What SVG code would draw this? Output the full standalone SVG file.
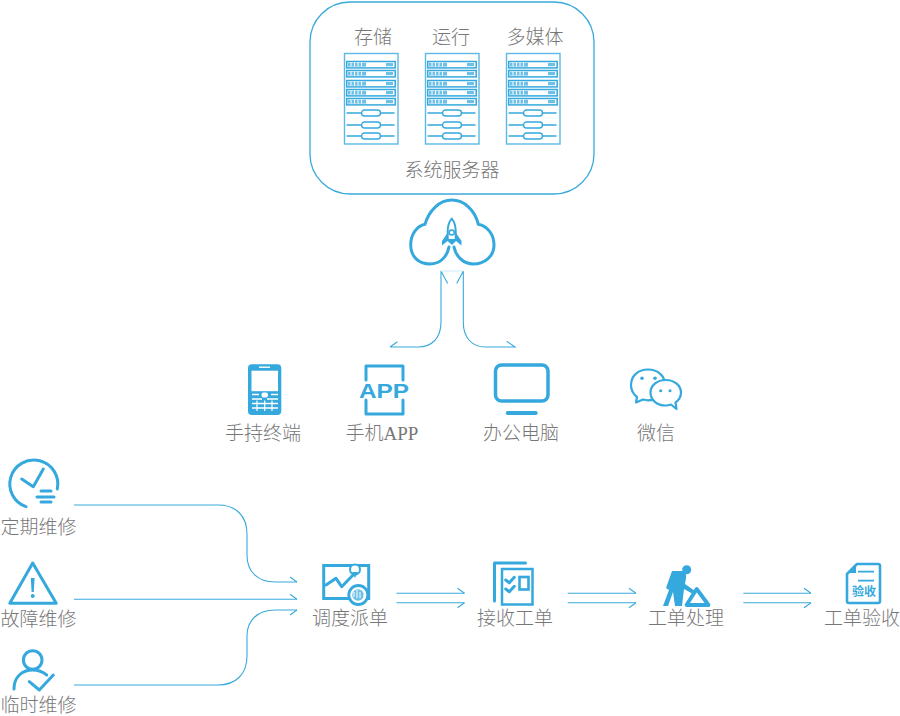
<svg xmlns="http://www.w3.org/2000/svg" width="900" height="716" viewBox="0 0 900 716">
<style>
text{font-family:"Noto Sans CJK SC","Liberation Sans",sans-serif;font-size:19px;font-weight:300;fill:#777;text-anchor:middle}
.lat{font-family:"Liberation Serif","Noto Sans CJK SC",serif}
.ln{fill:none;stroke:#3aa9dc;stroke-width:1.1}
.ic{fill:none;stroke:#35a8dd;stroke-width:3;stroke-linecap:round;stroke-linejoin:round}
.th{fill:none;stroke:#35a8dd;stroke-width:1.4}
.fl{fill:#35a8dd}
</style>
<defs>
<marker id="bu" markerUnits="userSpaceOnUse" markerWidth="10" markerHeight="14" refX="9" refY="7" orient="auto" overflow="visible"><path d="M9,7L2,2" fill="none" stroke="#3aa9dc" stroke-width="1.1"/></marker>
<marker id="bd" markerUnits="userSpaceOnUse" markerWidth="10" markerHeight="14" refX="9" refY="7" orient="auto" overflow="visible"><path d="M9,7L2,12" fill="none" stroke="#3aa9dc" stroke-width="1.1"/></marker>
<g id="rackunit">
<rect x="2.700" y="0.500" width="48.500" height="6.400" fill="#fff" stroke="#35a8dd" stroke-width="1.500"/>
<rect x="4" y="1.800" width="18" height="3.800" fill="#6fc0e6"/>
<path d="M7,1.500V5.500M10.500,1.500V5.500M14,1.500V5.500M17.500,1.500V5.500" stroke="#fff" stroke-width="1"/>
<rect x="42" y="2" width="7" height="3.200" fill="#6fc0e6"/>
</g>
<g id="rackslot">
<path d="M2.500,3.500H50.500" class="th"/>
<rect x="17.500" y="0.500" width="19" height="6" rx="3" fill="#fff" stroke="#35a8dd" stroke-width="1.400"/>
</g>
<g id="rack">
<rect x="0.500" y="0.500" width="53.500" height="90.500" fill="#fff" stroke="#5cb8e4" stroke-width="1.400"/>
<use href="#rackunit" y="8"/><use href="#rackunit" y="17"/><use href="#rackunit" y="27"/><use href="#rackunit" y="36"/><use href="#rackunit" y="45"/>
<use href="#rackslot" y="56.500"/><use href="#rackslot" y="68.500"/><use href="#rackslot" y="79.500"/>
</g>
</defs>
<g id="connectors">
<path class="ln" d="M390,347L397.500,341.700M390,347H418C432,347 441,338 441,322V271L447.700,283.500"/>
<path class="ln" d="M463.300,271V322C463.300,338 472,347 486,347H515L506.700,341.300M463.300,271L456.700,283.500"/>
<path d="M441,271H463.300" fill="none" stroke="#cdeaf7" stroke-width="1"/>
<path class="ln" d="M74,505H218C236,505 247,516 247,534V555C247,572 258,582 275,582H297" marker-end="url(#bu)"/>
<path class="ln" d="M74,599.300H297" marker-end="url(#bu)"/>
<path class="ln" d="M74,685H218C236,685 247,674 247,656V636C247,620 258,610 275,610H297" marker-end="url(#bd)"/>
<path class="ln" d="M396.500,593.300H464.500" marker-end="url(#bu)"/>
<path class="ln" d="M396.500,602.700H464.500" marker-end="url(#bd)"/>
<path class="ln" d="M567.700,593.300H636" marker-end="url(#bu)"/>
<path class="ln" d="M567.700,602.700H636" marker-end="url(#bd)"/>
<path class="ln" d="M743.300,593.300H811" marker-end="url(#bu)"/>
<path class="ln" d="M743.300,602.700H811" marker-end="url(#bd)"/>
</g>
<g id="servers">
<rect x="310" y="2" width="284" height="192" rx="40" fill="#fff" stroke="#3aa9dc" stroke-width="1.300"/>
<text x="373" y="44">存储</text>
<text x="451" y="44">运行</text>
<text x="535" y="44">多媒体</text>
<use href="#rack" x="344" y="53"/>
<use href="#rack" x="425" y="53"/>
<use href="#rack" x="506" y="53"/>
<text x="452" y="177">系统服务器</text>
</g>
<g id="cloud">
<path class="ic" d="M449,247C447,257 440,264 430,264C418,264 410.700,256 410.700,245C410.700,234 417,226 425,224.300C429,210 440,200 451.700,200C464,200 475,210 478.300,224.300C487,226 494,234 494,245C494,256 485,264 473.300,264C464,264 456,257 454,247"/>
<path d="M451.700,218.500C454.500,222 455.700,226 455.700,231V240H447.700V231C447.700,226 449,222 451.700,218.500Z" fill="#fff" stroke="#35a8dd" stroke-width="2" stroke-linejoin="round"/>
<path class="fl" d="M447.500,233L442,241V245.500L447.500,241L452,245L456,241L461.500,245.500V241L456,233V239H447.500Z"/>
<circle cx="451.700" cy="232.500" r="2.500" fill="#fff" stroke="#35a8dd" stroke-width="1.500"/>
</g>
<g id="handheld">
<rect x="248" y="364.300" width="33.300" height="50.700" rx="4" class="fl"/>
<rect x="251.500" y="370.700" width="26.500" height="20.500" fill="#fff"/>
<rect x="259" y="366.500" width="11" height="1.400" fill="#fff"/>
<path d="M252,394.500H259M271,394.500H278M252,399H262M267,399H278M252,403.500H278M252,408H278" stroke="#fff" stroke-width="1.500"/>
<path d="M257,400.500V411M272,400.500V411M264.700,400.500V411" stroke="#fff" stroke-width="1.200"/>
<rect x="261.500" y="392.500" width="6.500" height="5" rx="2" fill="#fff"/>
<text x="263" y="440">手持终端</text>
</g>
<g id="app">
<path class="ic" d="M366,380V366H403V380M366,400V414H403V400" stroke-linecap="butt"/>
<text x="384" y="398" textLength="50" lengthAdjust="spacingAndGlyphs" style="font-family:'Liberation Sans',sans-serif;font-size:21px;font-weight:700;fill:#35a8dd">APP</text>
<text x="382" y="440">手机<tspan class="lat">APP</tspan></text>
</g>
<g id="pc">
<rect x="495.500" y="365" width="52.500" height="36" rx="6" fill="none" stroke="#35a8dd" stroke-width="3.500"/>
<rect x="505.700" y="411" width="32" height="4" rx="2" class="fl"/>
<text x="521" y="440">办公电脑</text>
</g>
<g id="wechat">
<path d="M648,369.500C638,369.500 631,376 631,385C631,390 633,394 637,397L636,402.500L643,399.500C645,400 646.500,400.300 648,400.300C658,400.300 665,393 665,385C665,376 658,369.500 648,369.500Z" fill="#fff" stroke="#35a8dd" stroke-width="2.200" stroke-linejoin="round"/>
<path d="M665.700,380C657,380 650.500,385.500 650.500,392.500C650.500,400 657,405.500 665.700,405.500C667.500,405.500 669,405.300 671,404.500L676.500,409L675.500,402.500C679,400 681,396.500 681,392.500C681,385.500 674.500,380 665.700,380Z" fill="#fff" stroke="#35a8dd" stroke-width="2.200" stroke-linejoin="round"/>
<circle cx="642" cy="378.300" r="1.800" class="fl"/><circle cx="655" cy="378.300" r="1.800" class="fl"/>
<circle cx="660.700" cy="390.700" r="1.500" class="fl"/><circle cx="670" cy="390.700" r="1.500" class="fl"/>
<text x="656" y="440">微信</text>
</g>
<g id="regular">
<path class="ic" d="M26,506.700A24,24 0 1 1 57.300,489"/>
<path class="ic" d="M21.700,479L33.300,486.700L43.300,469"/>
<path class="ic" d="M41,491H51M37,497H54M41,502H51" stroke-width="2.200"/>
<text x="38.500" y="534">定期维修</text>
</g>
<g id="fault">
<path class="ic" d="M32.700,563L9.800,603.300H56.200Z"/>
<path d="M30.800,578H34.600L33.800,592H31.600Z" class="fl"/>
<circle cx="32.700" cy="596" r="2" class="fl"/>
<text x="38.500" y="626">故障维修</text>
</g>
<g id="temporary">
<circle cx="32.700" cy="660" r="9.300" class="ic"/>
<path class="ic" d="M14,689C14,677 22,670 32.700,670C38,670 43,672 46.700,675"/>
<path class="ic" d="M29.300,681.700L39.300,690L53.300,675"/>
<text x="38.500" y="712">临时维修</text>
</g>
<g id="dispatch">
<rect x="323.700" y="565.500" width="45" height="33" fill="#fff" stroke="#35a8dd" stroke-width="3"/>
<path class="ic" d="M326,585L336,578.300L341.700,586.700L355,573" stroke-width="2.200"/>
<circle cx="355" cy="569.500" r="5" fill="#fff" stroke="#35a8dd" stroke-width="2"/>
<path d="M352,572L355,578L358,572Z" class="fl"/>
<circle cx="358.300" cy="595" r="9.500" fill="#fff" stroke="#35a8dd" stroke-width="2.800"/>
<circle cx="358" cy="595" r="5.800" fill="#6fc0e6"/>
<path d="M354,597V592M357,598V590M360,598V592M363,595L365,596.500" stroke="#fff" stroke-width="1"/>
<text x="350" y="625">调度派单</text>
</g>
<g id="receive">
<path class="ic" d="M494.500,601V563H525.500" stroke-linecap="butt"/>
<rect x="502" y="569" width="30.500" height="35.500" fill="#fff" stroke="#35a8dd" stroke-width="2.500"/>
<path class="ic" d="M505.700,580L509.300,582.700L514.300,577.300M505.700,589L509.300,591.700L514.300,586.300" stroke-width="1.800"/>
<rect x="519.500" y="577" width="9" height="12.500" fill="none" stroke="#35a8dd" stroke-width="2.600"/>
<text x="515" y="625">接收工单</text>
</g>
<g id="process">
<circle cx="686.700" cy="569.800" r="4.500" class="fl"/>
<path class="fl" d="M672,571H683Q687,573 686,578L685,584L695,591L693,594L684,589L682,606H675L673,592L668,606H663L669,590L666,588Z"/>
<path d="M696.700,589L686.500,605H708.500Z" fill="#fff" stroke="#35a8dd" stroke-width="3.800" stroke-linejoin="round"/>
<text x="686" y="625">工单处理</text>
</g>
<g id="verify">
<path d="M857,564H878Q880,564 880,566V601Q880,603 878,603H849Q847,603 847,601V574Z" fill="#fff" stroke="#35a8dd" stroke-width="2.600" stroke-linejoin="round"/>
<path d="M848,573H856V564.500Z" class="fl"/>
<path d="M858,571.700H874M858,580.700H874" stroke="#35a8dd" stroke-width="1.800"/>
<text x="864" y="596" style="font-size:12px;font-weight:700;fill:#35a8dd">验收</text>
<text x="862" y="625">工单验收</text>
</g>
</svg>
